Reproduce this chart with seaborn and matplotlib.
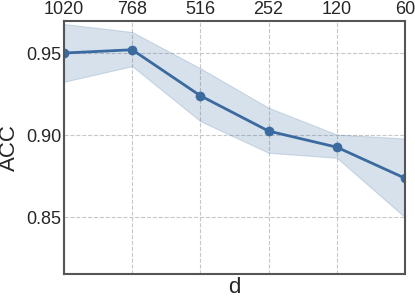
import matplotlib
matplotlib.use("Agg")
import matplotlib.pyplot as plt
import seaborn as sns
import pandas as pd

d_labels = ["1020", "768", "516", "252", "120", "60"]
acc = [0.950, 0.952, 0.924, 0.9025, 0.8927, 0.8738]
acc_upper = [0.9677, 0.9628, 0.9407, 0.9167, 0.9004, 0.898]
acc_lower = [0.9325, 0.942, 0.9085, 0.8893, 0.8862, 0.850]

sns.set_style("whitegrid", {"grid.linestyle": "--", "axes.edgecolor": "#555555"})
plt.rcParams['font.family'] = ['Liberation Sans', 'DejaVu Sans']

df = pd.DataFrame({"pos": range(len(d_labels)), "acc": acc})
color = "#3a6a9f"

fig = plt.figure(figsize=(4.15, 2.99), dpi=100)
ax = fig.add_axes([64/415, 1 - 274/299, (405-64)/415, (274-21)/299])
ax.fill_between(df["pos"], acc_lower, acc_upper, color=color, alpha=0.2, linewidth=0.8)
sns.lineplot(data=df, x="pos", y="acc", ax=ax, color=color, marker="o",
             markersize=7, linewidth=2, markeredgewidth=0)
ax.set_xlim(0, len(d_labels) - 1)
ax.set_ylim(0.8155, 0.9695)
ax.set_xticks(range(len(d_labels)))
ax.set_xticklabels(d_labels)
ax.xaxis.tick_top()
ax.set_yticks([0.85, 0.90, 0.95])
ax.set_yticklabels(["0.85", "0.90", "0.95"])
ax.tick_params(axis='both', labelsize=13, pad=2, length=0)
ax.set_xlabel("d", fontsize=16, labelpad=2)
ax.xaxis.set_label_position("bottom")
ax.set_ylabel("ACC", fontsize=16, labelpad=4)
ax.grid(True, color="#c8c8c8", linestyle="--", linewidth=0.8)
for s in ax.spines.values():
    s.set_color("#555555")
    s.set_linewidth(1.5)
    s.set_visible(True)
fig.savefig("out.png", dpi=100)
